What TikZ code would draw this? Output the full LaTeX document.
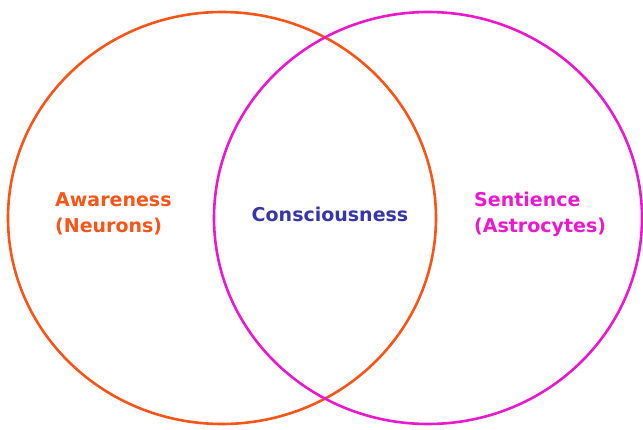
\documentclass[tikz,border=0pt]{standalone}
\usepackage{fontspec}
\setmainfont{DejaVu Sans}
\usepackage{tikz}

\definecolor{awareorange}{RGB}{250,85,25}
\definecolor{sentpink}{RGB}{235,25,205}
\definecolor{consblue}{RGB}{55,55,170}

\begin{document}
\begin{tikzpicture}[x=1pt, y=1pt, every node/.style={font=\bfseries\fontsize{19}{26}\selectfont, inner sep=0pt}]
  \useasboundingbox (0,0) rectangle (643,429);

  % Circles
  \draw[awareorange, line width=2.6pt] (222,211) ellipse [x radius=214, y radius=206];
  \draw[sentpink, line width=2.6pt] (428,211) ellipse [x radius=214, y radius=206];

  % Labels
  \node[awareorange, align=left, anchor=west] (aware) at (55,215) {Awareness\\(Neurons)};
  \node[consblue] (cons) at (330,215) {Consciousness};
  \node[sentpink, align=left, anchor=west] (sent) at (474,215) {Sentience\\(Astrocytes)};
\end{tikzpicture}
\end{document}
